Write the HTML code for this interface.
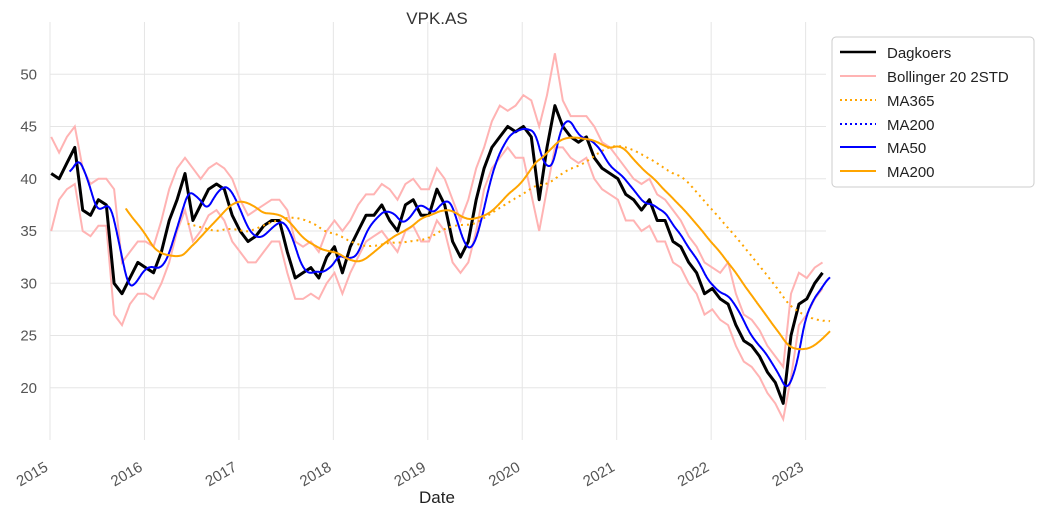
<!DOCTYPE html>
<html><head><meta charset="utf-8"><style>
body{margin:0;background:#fff;}
svg text{font-family:"Liberation Sans",Arial,sans-serif;}
</style></head><body>
<svg id="chart" width="1040" height="518" viewBox="0 0 1040 518" xmlns="http://www.w3.org/2000/svg">
<text x="437" y="24" font-size="17" fill="#333" text-anchor="middle">VPK.AS</text>
<g id="grid"></g>
<g id="marks"></g>
<g id="axes"></g>
<text x="437" y="503" font-size="17" fill="#222" text-anchor="middle">Date</text>
<g>
<rect x="832" y="37" width="202" height="150" rx="4" fill="#fff" stroke="#ccc"/>
<g><line x1="840" y1="52" x2="876" y2="52" stroke="#000" stroke-width="2.5"/><text x="887" y="58" font-size="15" fill="#222">Dagkoers</text></g>
<g><line x1="840" y1="76" x2="876" y2="76" stroke="#ffb3b3" stroke-width="2"/><text x="887" y="82" font-size="15" fill="#222">Bollinger 20 2STD</text></g>
<g><line x1="840" y1="100" x2="876" y2="100" stroke="orange" stroke-width="2" stroke-dasharray="2,3"/><text x="887" y="106" font-size="15" fill="#222">MA365</text></g>
<g><line x1="840" y1="124" x2="876" y2="124" stroke="blue" stroke-width="2" stroke-dasharray="2,3"/><text x="887" y="130" font-size="15" fill="#222">MA200</text></g>
<g><line x1="840" y1="147" x2="876" y2="147" stroke="blue" stroke-width="2"/><text x="887" y="153" font-size="15" fill="#222">MA50</text></g>
<g><line x1="840" y1="171" x2="876" y2="171" stroke="orange" stroke-width="2"/><text x="887" y="177" font-size="15" fill="#222">MA200</text></g>
</g>
</svg>
<script>
const startYear = 2015;
const price = [40.5,40,41.5,43,37,36.5,38,37.5,30,29,30.5,32,
31.5,31,33,36,38,40.5,36,37.5,39,39.5,39,36.5,
35,34,34.5,35.5,36,36,33,30.5,31,31.5,30.5,32.5,
33.5,31,33.5,35,36.5,36.5,37.5,36,35,37.5,38,36.5,
36.5,39,37.5,34,32.5,34,38,41,43,44,45,44.5,
45,44,38,43,47,45,44,43.5,44,42,41,40.5,
40,38.5,38,37,38,36,36,34,33.5,32,31,29,
29.5,28.5,28,26,24.5,24,23,21.5,20.5,18.5,25,28,
28.5,30,31];
const bandUp = [44,42.5,44,45,41,39.5,40,40,39,32,33,34,
34,33.5,36,39,41,42,41,40,41,41.5,41,40,
38,36.5,37,37.5,38,38,37,34,33.5,34,33,35,
36,35,36,37.5,38.5,38.5,39.5,39,38,39.5,40,39,
39,41,40,38,36,38,41,43,45.5,47,46.5,47,
48,47.5,45,48,52,47.5,46,46,46,45,43.5,43,
42,41,40,39.5,40,38.5,38,37,36,34.5,33.5,32,
31.5,31,32,29,27,26.5,25.5,24,23,22,29,31,
30.5,31.5,32];
const bandLo = [35,38,39,39.5,35,34.5,35.5,35.5,27,26,28,29,
29,28.5,30,32,35,37,34,35,36.5,37,36,34,
33,32,32,33,34,34,31,28.5,28.5,29,28.5,30,
31,29,31,32.5,34,34.5,35,34,33,35,35.5,34,
34,36,35,32,31,32,35,39,41,42,43,42,
42,38.5,35,39,43,43,42,41.5,42,40,39,38.5,
38,36,36,35,35.5,34,34,32,31.5,30,29,27,
27.5,26.5,26,24,22.5,22,21,19.5,18.5,17,21,26,
27,28.5,29.5];
const xTicks = ["2015","2016","2017","2018","2019","2020","2021","2022","2023"];
const yTicks = ["20","25","30","35","40","45","50"];

const NS="http://www.w3.org/2000/svg";
const X0=50, PXY=94.45, YTOP=22, YBOT=440, VMIN=15, VMAX=55;
const xs = t => X0 + (t-startYear)*PXY;
const ys = v => YBOT - (v-VMIN)/(VMAX-VMIN)*(YBOT-YTOP);
function mk(tag, attrs, parent){const e=document.createElementNS(NS,tag);for(const k in attrs)e.setAttribute(k,attrs[k]);parent.appendChild(e);return e;}
const grid=document.getElementById('grid'), marks=document.getElementById('marks'), axes=document.getElementById('axes');

yTicks.forEach(l=>{
  const v=+l, y=ys(v);
  const g=mk('line',{x1:X0,x2:826,y1:y,y2:y,stroke:'#e5e5e5','stroke-width':1},grid);
  
  
  const t=mk('text',{x:37,y:y+5,'font-size':15,fill:'#555','text-anchor':'end'},axes);
  t.textContent=l;
  
  
});
xTicks.forEach(l=>{
  const x=xs(+l);
  const g=mk('line',{x1:x,x2:x,y1:YTOP,y2:YBOT,stroke:'#e5e5e5','stroke-width':1},grid);
  
  
  const ax=x-1, ay=470;
  const t=mk('text',{x:ax,y:ay,'font-size':15,fill:'#555','text-anchor':'end',transform:`rotate(-30 ${ax} ${ay})`},axes);
  t.textContent=l;
  
  
});

const tm = i => startYear + (i+0.15)/12;
function pathOf(arr, tf){return arr.map((v,i)=>(i?'L':'M')+xs(tf(i)).toFixed(1)+','+ys(v).toFixed(1)).join('');}
const D=21, daily=[];
for(let i=0;i<price.length;i++){for(let d=0;d<D;d++){const a=price[i], b=price[Math.min(i+1,price.length-1)];daily.push(a+(b-a)*d/D);}}
const dt = j => startYear + (j+D*0.15)/(12*D);
function ma(n){const out=[];let s=0;for(let j=0;j<daily.length;j++){s+=daily[j];if(j>=n)s-=daily[j-n];if(j>=n-1)out.push([j,s/n]);}return out;}
function maPath(m){return m.map((p,k)=>(k?'L':'M')+xs(dt(p[0])).toFixed(1)+','+ys(p[1]).toFixed(1)).join('');}

const bu=mk('path',{d:pathOf(bandUp,tm),fill:'none',stroke:'#ffb3b3','stroke-width':2},marks);


const bl=mk('path',{d:pathOf(bandLo,tm),fill:'none',stroke:'#ffb3b3','stroke-width':2},marks);


const pl=mk('path',{d:pathOf(price,tm),fill:'none',stroke:'#000','stroke-width':3,'stroke-linejoin':'round'},marks);


const m365=mk('path',{d:maPath(ma(365)),fill:'none',stroke:'orange','stroke-width':2,'stroke-dasharray':'2,4'},marks);


const m50=mk('path',{d:maPath(ma(50)),fill:'none',stroke:'blue','stroke-width':2},marks);


const m200=mk('path',{d:maPath(ma(200)),fill:'none',stroke:'orange','stroke-width':2},marks);


</script>
</body></html>
